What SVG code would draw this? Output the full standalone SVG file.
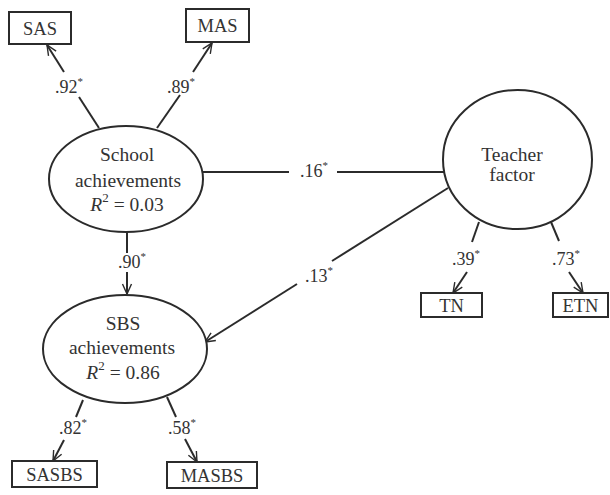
<svg xmlns="http://www.w3.org/2000/svg" width="610" height="495" viewBox="0 0 610 495">
  <defs>
    <marker id="arrow" viewBox="0 0 12 12" refX="11" refY="6" markerWidth="12" markerHeight="12" markerUnits="userSpaceOnUse" orient="auto">
      <polyline points="1,1.5 11,6 1,10.5" fill="none" stroke="#2b2b2b" stroke-width="1.4"/>
    </marker>
    <style>
      .edge { fill: none; stroke: #2b2b2b; stroke-width: 2; }
      .shape { fill: #ffffff; stroke: #2b2b2b; stroke-width: 2; }
      .box { fill: #ffffff; stroke: #2b2b2b; stroke-width: 2; }
      .txt { font-family: "Liberation Serif", "Times New Roman", serif; fill: #333333; text-anchor: middle; }
      .node { font-size: 19.5px; }
      .lbl { font-size: 18px; }
      .obs { font-size: 18.5px; }
      .sup { font-size: 11px; }
      .sq { font-size: 13px; }
    </style>
  </defs>
  <rect width="610" height="495" fill="#ffffff"/>

  <!-- paths between the factors and their indicators -->
  <g id="connectors">
    <!-- School achievements to SAS -->
    <line class="edge" x1="99" y1="128" x2="79" y2="97"/>
    <line class="edge" x1="64" y1="72" x2="47" y2="45" marker-end="url(#arrow)"/>
    <text class="txt lbl" x="69" y="93">.92<tspan class="sup" dy="-8">*</tspan></text>
    <!-- School achievements to MAS -->
    <line class="edge" x1="157" y1="128" x2="180" y2="95"/>
    <line class="edge" x1="193" y1="72" x2="212" y2="43" marker-end="url(#arrow)"/>
    <text class="txt lbl" x="181" y="93">.89<tspan class="sup" dy="-8">*</tspan></text>
    <!-- School achievements to SBS achievements -->
    <line class="edge" x1="127" y1="232" x2="127" y2="253"/>
    <line class="edge" x1="127" y1="272" x2="127" y2="294" marker-end="url(#arrow)"/>
    <text class="txt lbl" x="132" y="268">.90<tspan class="sup" dy="-8">*</tspan></text>
    <!-- School achievements with Teacher factor -->
    <line class="edge" x1="203" y1="172" x2="289" y2="172"/>
    <line class="edge" x1="337" y1="172" x2="444" y2="172"/>
    <text class="txt lbl" x="314" y="177">.16<tspan class="sup" dy="-8">*</tspan></text>
    <!-- Teacher factor to SBS achievements -->
    <line class="edge" x1="448" y1="188" x2="332" y2="261"/>
    <line class="edge" x1="297" y1="284" x2="205" y2="342" marker-end="url(#arrow)"/>
    <text class="txt lbl" x="319" y="282">.13<tspan class="sup" dy="-8">*</tspan></text>
    <!-- Teacher factor to TN -->
    <line class="edge" x1="479" y1="222" x2="472" y2="242"/>
    <line class="edge" x1="467" y1="272" x2="453" y2="293" marker-end="url(#arrow)"/>
    <text class="txt lbl" x="466" y="265">.39<tspan class="sup" dy="-8">*</tspan></text>
    <!-- Teacher factor to ETN -->
    <line class="edge" x1="551" y1="222" x2="559" y2="241"/>
    <line class="edge" x1="569" y1="272" x2="583" y2="293" marker-end="url(#arrow)"/>
    <text class="txt lbl" x="566" y="265">.73<tspan class="sup" dy="-8">*</tspan></text>
    <!-- SBS achievements to SASBS -->
    <line class="edge" x1="83" y1="400" x2="76" y2="417"/>
    <line class="edge" x1="64" y1="440" x2="53" y2="461" marker-end="url(#arrow)"/>
    <text class="txt lbl" x="73" y="434">.82<tspan class="sup" dy="-8">*</tspan></text>
    <!-- SBS achievements to MASBS -->
    <line class="edge" x1="167" y1="397" x2="176" y2="417"/>
    <line class="edge" x1="185" y1="439" x2="197" y2="462" marker-end="url(#arrow)"/>
    <text class="txt lbl" x="182" y="434">.58<tspan class="sup" dy="-8">*</tspan></text>
  </g>

  <g id="school-achievements">
    <ellipse class="shape" cx="126" cy="179" rx="77" ry="53"/>
    <text class="txt node" x="127" y="161">School</text>
    <text class="txt node" x="128" y="187">achievements</text>
    <text class="txt node" x="127" y="211"><tspan font-style="italic">R</tspan><tspan class="sq" dy="-9">2</tspan><tspan dy="9"> = 0.03</tspan></text>
  </g>

  <g id="sbs-achievements">
    <ellipse class="shape" cx="125" cy="349" rx="82" ry="54"/>
    <text class="txt node" x="123" y="330">SBS</text>
    <text class="txt node" x="122" y="354">achievements</text>
    <text class="txt node" x="123" y="379"><tspan font-style="italic">R</tspan><tspan class="sq" dy="-9">2</tspan><tspan dy="9"> = 0.86</tspan></text>
  </g>

  <g id="teacher-factor">
    <ellipse class="shape" cx="517.5" cy="159.5" rx="74.5" ry="69.5"/>
    <text class="txt node" x="512" y="161">Teacher</text>
    <text class="txt node" x="512" y="181">factor</text>
  </g>

  <g id="sas">
    <rect class="box" x="9" y="12" width="62" height="32"/>
    <text class="txt obs" x="40" y="35">SAS</text>
  </g>

  <g id="mas">
    <rect class="box" x="186" y="9" width="63" height="33"/>
    <text class="txt obs" x="217.5" y="32">MAS</text>
  </g>

  <g id="tn">
    <rect class="box" x="421" y="293" width="61" height="24"/>
    <text class="txt obs" x="451.5" y="312">TN</text>
  </g>

  <g id="etn">
    <rect class="box" x="553" y="293" width="55" height="24"/>
    <text class="txt obs" x="580.5" y="312">ETN</text>
  </g>

  <g id="sasbs">
    <rect class="box" x="12" y="461" width="85" height="26"/>
    <text class="txt obs" x="54.5" y="481">SASBS</text>
  </g>

  <g id="masbs">
    <rect class="box" x="167" y="462" width="90" height="26"/>
    <text class="txt obs" x="212" y="482">MASBS</text>
  </g>
</svg>
